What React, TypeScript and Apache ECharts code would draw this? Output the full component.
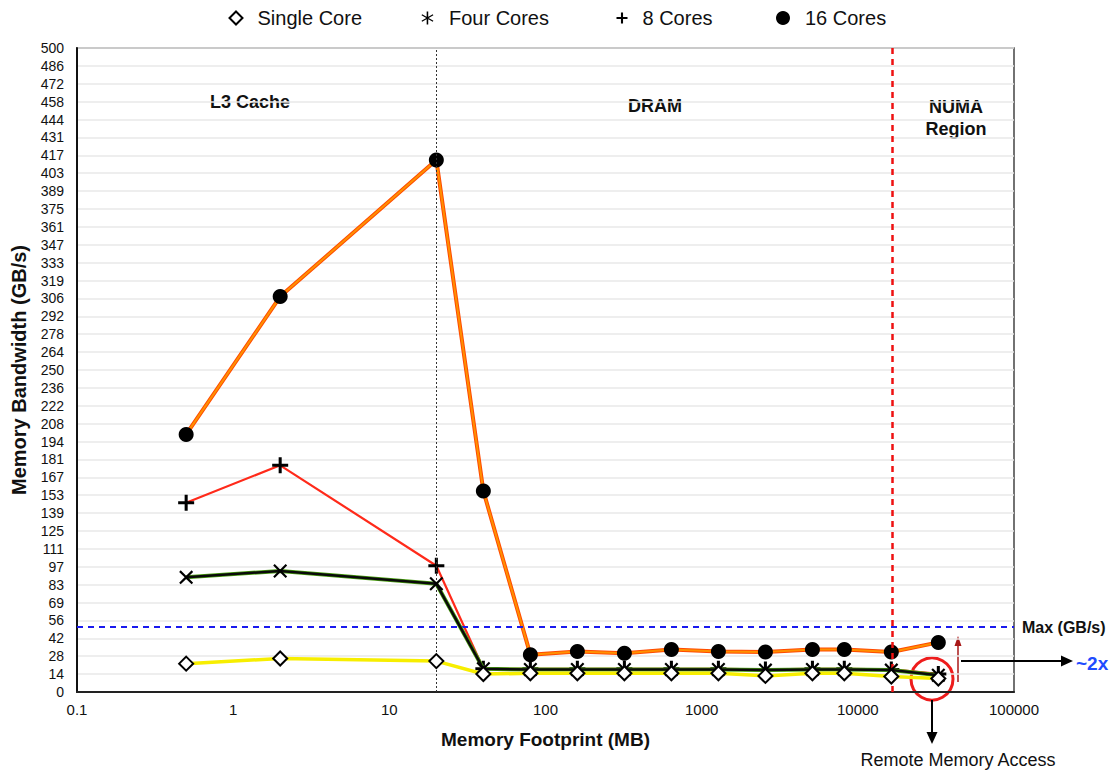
import React, { useEffect, useRef } from "react";
import * as echarts from "echarts";

// ---- data ----
const footprintMB = [0.5, 2, 20, 40, 80, 160, 320, 640, 1280, 2560, 5120, 8192, 16384, 32768];
const singleCore = [22, 26, 24, 14, 14.5, 14.5, 14.5, 14.5, 14.5, 12.5, 14.5, 14.5, 12, 10.5];
const fourCores = [89, 94, 84, 18, 17.5, 17.5, 17.5, 17.5, 17.5, 17, 17.5, 17.5, 17, 13];
const eightCores = [147, 176, 98, 18, 18, 18, 18, 18, 18, 17.5, 18, 18, 17.5, 14];
const sixteenCores = [200, 307, 413, 156, 29, 31.5, 30, 33, 31.5, 31, 33, 33, 31, 38.5];

const seriesNames = ["Single Core", "Four Cores", "8 Cores", "16 Cores"];
const yMax = 500;
const yTickCount = 36;
const xMin = 0.1;
const xMax = 100000;
const l3Boundary = 20;
const numaBoundary = 16500;
const maxBandwidth = 51;

const FONT = "'Liberation Sans', Arial, Helvetica, sans-serif";

const X_PATH =
  "path://M0,2.2 L2.2,0 L10,7.8 L17.8,0 L20,2.2 L12.2,10 L20,17.8 L17.8,20 L10,12.2 L2.2,20 L0,17.8 L7.8,10 Z";
const PLUS_PATH =
  "path://M8.1,0 H11.9 V8.1 H20 V11.9 H11.9 V20 H8.1 V11.9 H0 V8.1 H8.1 Z";
const STAR_PATH =
  "path://M8.8,0 H11.2 V20 H8.8 Z M18.16,4.13 L19.16,5.87 L1.84,15.87 L0.84,14.13 Z M19.16,14.13 L18.16,15.87 L0.84,5.87 L1.84,4.13 Z";

const pairs = (ys: number[]) => footprintMB.map((x, i) => [x, ys[i]]);

function buildOption() {
  const legendItem = (
    name: string,
    icon: string,
    iconCenter: number,
    size: number,
    itemStyle: any
  ) => ({
    left: iconCenter - size / 2,
    top: 18 - 12,
    padding: 0,
    itemWidth: size,
    itemHeight: size,
    selectedMode: false,
    data: [{ name, icon, itemStyle }],
    textStyle: {
      fontSize: 20,
      fontFamily: FONT,
      color: "#111",
      padding: [0, 0, 0, 10],
      lineHeight: 24,
    },
  });

  return {
    animation: false,
    backgroundColor: "#ffffff",
    legend: [
      legendItem(seriesNames[0], "diamond", 235, 13, {
        color: "#fff",
        borderColor: "#000",
        borderWidth: 2,
      }),
      legendItem(seriesNames[1], STAR_PATH, 428, 13, { color: "#000", borderWidth: 0 }),
      legendItem(seriesNames[2], PLUS_PATH, 622, 11, { color: "#000", borderWidth: 0 }),
      legendItem(seriesNames[3], "circle", 783, 14, { color: "#000", borderWidth: 0 }),
    ],
    grid: {
      left: 77,
      right: 100,
      top: 48,
      bottom: 79,
      show: true,
      borderColor: "#444",
      borderWidth: 1.5,
    },
    xAxis: {
      type: "log",
      logBase: 10,
      min: xMin,
      max: xMax,
      name: "Memory Footprint (MB)",
      nameLocation: "middle",
      nameGap: 38,
      nameTextStyle: { fontSize: 19, fontWeight: "bold", color: "#111", fontFamily: FONT },
      axisLine: { show: true, lineStyle: { color: "#222", width: 2 } },
      axisTick: { show: false },
      minorTick: { show: false },
      splitLine: { show: false },
      axisLabel: {
        fontSize: 15,
        color: "#111",
        margin: 10,
        fontFamily: FONT,
        formatter: (v: number) => String(Number(v.toPrecision(6))),
      },
    },
    yAxis: {
      type: "value",
      min: 0,
      max: yMax,
      interval: yMax / yTickCount,
      name: "Memory Bandwidth (GB/s)",
      nameLocation: "middle",
      nameGap: 48,
      nameTextStyle: { fontSize: 20, fontWeight: "bold", color: "#111", fontFamily: FONT },
      axisLine: { show: true, lineStyle: { color: "#111", width: 2 } },
      axisTick: { show: false },
      splitLine: { show: true, lineStyle: { color: "#e8e8e8", width: 1.5 } },
      axisLabel: {
        fontSize: 14,
        color: "#111",
        margin: 13,
        fontFamily: FONT,
        formatter: (v: number) => String(Math.round(v)),
      },
    },
    series: [
      {
        name: "16 Cores (edge)",
        type: "line",
        data: pairs(sixteenCores),
        symbol: "none",
        lineStyle: { color: "#ff4a00", width: 4 },
        itemStyle: { color: "#ff4a00" },
        z: 2,
        markLine: {
          silent: true,
          symbol: ["none", "none"],
          label: { show: false },
          data: [
            { xAxis: l3Boundary, lineStyle: { color: "#333", width: 1, type: [2, 2] } },
            { xAxis: numaBoundary, lineStyle: { color: "#ee1111", width: 2.5, type: [6, 5] } },
            { yAxis: maxBandwidth, lineStyle: { color: "#1a1aee", width: 2, type: [6, 5] } },
          ],
        },
      },
      {
        name: "16 Cores",
        type: "line",
        data: pairs(sixteenCores),
        symbol: "circle",
        symbolSize: 15,
        lineStyle: { color: "#ff9000", width: 2 },
        itemStyle: { color: "#000" },
        z: 3,
      },
      {
        name: "8 Cores",
        type: "line",
        data: pairs(eightCores),
        symbol: PLUS_PATH,
        symbolSize: 16,
        lineStyle: { color: "#ff2a1a", width: 2.2 },
        itemStyle: { color: "#000" },
        z: 4,
      },
      {
        name: "Four Cores (edge)",
        type: "line",
        data: pairs(fourCores),
        symbol: "none",
        lineStyle: { color: "#4aa010", width: 4 },
        itemStyle: { color: "#4aa010" },
        z: 5,
      },
      {
        name: "Four Cores",
        type: "line",
        data: pairs(fourCores),
        symbol: X_PATH,
        symbolSize: 14,
        lineStyle: { color: "#0a0a0a", width: 2.5 },
        itemStyle: { color: "#000" },
        z: 6,
      },
      {
        name: "Single Core",
        type: "line",
        data: pairs(singleCore),
        symbol: "diamond",
        symbolSize: 14,
        lineStyle: { color: "#f7ee00", width: 3.5 },
        itemStyle: { color: "#fff", borderColor: "#000", borderWidth: 2 },
        z: 7,
      },
    ],
    graphic: [
      {
        type: "text",
        left: 210,
        top: 93,
        style: { text: "L3 Cache", font: `bold 18px ${FONT}`, fill: "#111" },
      },
      {
        type: "text",
        left: 628,
        top: 97,
        style: { text: "DRAM", font: `bold 18px ${FONT}`, fill: "#111" },
      },
      {
        type: "text",
        x: 956,
        y: 118,
        style: {
          text: "NUMA\nRegion",
          font: `bold 18px ${FONT}`,
          fill: "#111",
          align: "center",
          verticalAlign: "middle",
          lineHeight: 22,
        },
      },
      {
        type: "text",
        x: 1022,
        y: 627,
        style: {
          text: "Max (GB/s)",
          font: `bold 16px ${FONT}`,
          fill: "#111",
          verticalAlign: "middle",
        },
      },
      {
        type: "text",
        x: 1076,
        y: 663,
        style: {
          text: "~2x",
          font: `bold 19px ${FONT}`,
          fill: "#1f4cff",
          verticalAlign: "middle",
        },
      },
      {
        type: "line",
        shape: { x1: 961, y1: 661, x2: 1062, y2: 661 },
        style: { stroke: "#000", lineWidth: 2 },
      },
      {
        type: "polygon",
        shape: { points: [[1073, 661], [1061, 655.5], [1061, 666.5]] },
        style: { fill: "#000" },
      },
      {
        type: "line",
        shape: { x1: 958, y1: 682, x2: 958, y2: 645 },
        style: { stroke: "#a81818", lineWidth: 1.5 },
      },
      {
        type: "polygon",
        shape: { points: [[958, 636], [954.5, 646], [961.5, 646]] },
        style: { fill: "#a81818" },
      },
      {
        type: "circle",
        shape: { cx: 932, cy: 679, r: 21 },
        style: { fill: "none", stroke: "#ee1c1c", lineWidth: 3 },
      },
      {
        type: "line",
        shape: { x1: 932, y1: 700, x2: 932, y2: 733 },
        style: { stroke: "#000", lineWidth: 2 },
      },
      {
        type: "polygon",
        shape: { points: [[932, 744], [926.5, 732], [937.5, 732]] },
        style: { fill: "#000" },
      },
      {
        type: "text",
        x: 958,
        y: 760,
        style: {
          text: "Remote Memory Access",
          font: `18px ${FONT}`,
          fill: "#111",
          align: "center",
          verticalAlign: "middle",
        },
      },
    ],
  };
}

export default function App() {
  const ref = useRef<HTMLDivElement>(null);
  useEffect(() => {
    document.body.style.margin = "0";
    if (!ref.current) return;
    const chart = echarts.init(ref.current, null, { renderer: "svg" });
    chart.setOption(buildOption() as any);
    return () => chart.dispose();
  }, []);
  return <div ref={ref} style={{ width: 1114, height: 771 }} />;
}
